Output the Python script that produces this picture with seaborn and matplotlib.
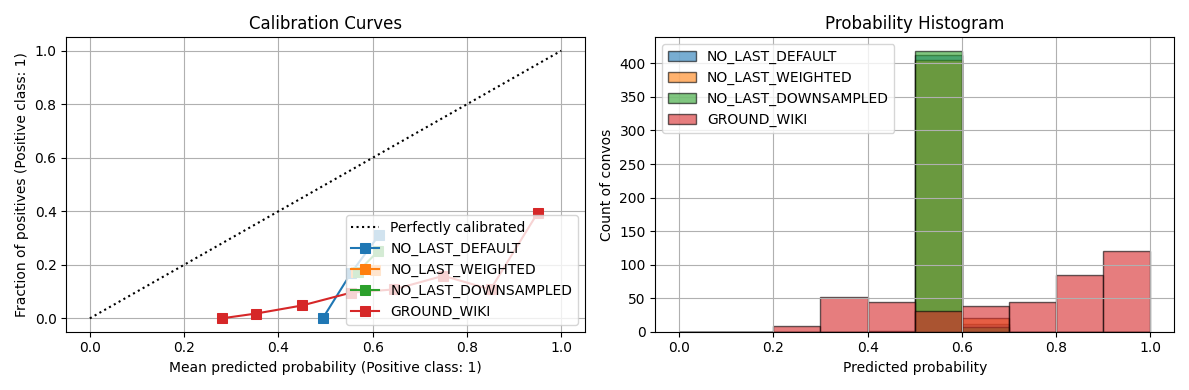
import numpy as np
import matplotlib
matplotlib.use("Agg")
import matplotlib.pyplot as plt
import seaborn as sns

# calibration curve points (mean predicted prob, fraction of positives)
default_x = [0.494, 0.554, 0.613]
default_y = [0.0, 0.169, 0.31]
weighted_x = [0.565, 0.605]
weighted_y = [0.172, 0.18]
downsampled_x = [0.569, 0.611]
downsampled_y = [0.175, 0.25]
wiki_x = [0.28, 0.353, 0.45, 0.554, 0.645, 0.75, 0.85, 0.95]
wiki_y = [0.0, 0.018, 0.048, 0.096, 0.108, 0.159, 0.108, 0.394]

# histogram counts per 0.1 bin
bin_edges = np.linspace(0, 1, 11)
default_counts = [0, 0, 0, 0, 1, 413, 12, 0, 0, 0]
weighted_counts = [0, 0, 0, 0, 0, 405, 21, 0, 0, 0]
downsampled_counts = [0, 0, 0, 0, 0, 418, 7, 0, 0, 0]
wiki_counts = [0, 0, 8, 52, 45, 31, 39, 45, 84, 120]

names = ["NO_LAST_DEFAULT", "NO_LAST_WEIGHTED", "NO_LAST_DOWNSAMPLED", "GROUND_WIKI"]
colors = ["tab:blue", "tab:orange", "tab:green", "tab:red"]

fig, (ax1, ax2) = plt.subplots(1, 2, figsize=(11.89, 3.9), dpi=100)

# left: calibration curves
ax1.plot([0, 1], [0, 1], "k:", label="Perfectly calibrated")
curves = [(default_x, default_y), (weighted_x, weighted_y),
          (downsampled_x, downsampled_y), (wiki_x, wiki_y)]
for (cx, cy), name, c in zip(curves, names, colors):
    sns.lineplot(x=cx, y=cy, ax=ax1, marker="s", color=c, label=name,
                 markeredgecolor=c, markersize=7, linewidth=1.5, sort=False)
ax1.set_xlim(-0.05, 1.05)
ax1.set_ylim(-0.05, 1.05)
ax1.set_xlabel("Mean predicted probability (Positive class: 1)")
ax1.set_ylabel("Fraction of positives (Positive class: 1)")
ax1.set_title("Calibration Curves")
ax1.grid(True)
ax1.legend(loc="lower right")

# right: probability histogram
centers = (bin_edges[:-1] + bin_edges[1:]) / 2
all_counts = [default_counts, weighted_counts, downsampled_counts, wiki_counts]
for counts, name, c in zip(all_counts, names, colors):
    ax2.hist(centers, bins=bin_edges, weights=counts, alpha=0.6,
             color=c, edgecolor="black", label=name)
ax2.set_xlabel("Predicted probability")
ax2.set_ylabel("Count of convos")
ax2.set_title("Probability Histogram")
ax2.grid(True)
ax2.legend(loc="upper left")

plt.tight_layout()
plt.savefig("out.png", dpi=100)
